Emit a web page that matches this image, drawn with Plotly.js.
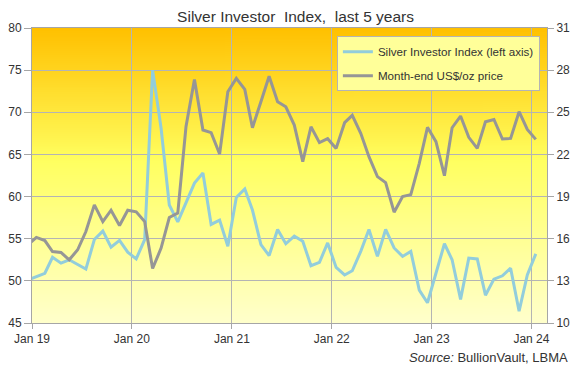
<!DOCTYPE html>
<html>
<head>
<meta charset="utf-8">
<script src="https://cdn.plot.ly/plotly-3.0.1.min.js"></script>
<style>html,body{margin:0;padding:0;background:#fff;}#chart{width:575px;height:369px;}</style>
</head>
<body>
<div id="chart"></div>
<script>
// Monthly points, Dec 2018 (partly off the left edge) through Jan 2024
const firstMonth = [2018, 12];
const pointCount = 62;

const indexValues = [50.1, 50.5, 50.9, 52.8, 52.1, 52.5, 51.9, 51.4, 54.9, 55.9, 54.0, 54.8, 53.4, 52.6, 54.9, 75.0,
  68.1, 59.0, 57.0, 59.2, 61.6, 62.8, 56.7, 57.2, 54.1, 59.9, 60.9, 58.4, 54.3, 53.0, 56.1, 54.4,
  55.3, 54.7, 51.8, 52.2, 54.5, 51.6, 50.7, 51.2, 53.5, 56.1, 52.9, 56.1, 53.9, 52.9, 53.5, 48.9,
  47.4, 50.9, 54.4, 52.5, 47.8, 52.7, 52.6, 48.3, 50.2, 50.6, 51.5, 46.4, 50.7, 53.2];

const priceValues = [15.57, 16.09, 15.87, 15.09, 15.02, 14.5, 15.21, 16.51, 18.41, 17.22, 18.03, 16.94, 18.03, 17.91, 17.22, 13.88,
  15.33, 17.51, 17.82, 23.97, 27.34, 23.74, 23.55, 22.03, 26.46, 27.41, 26.63, 23.9, 25.75, 27.57, 25.75, 25.39,
  24.09, 21.49, 23.97, 22.84, 23.12, 22.43, 24.26, 24.78, 23.5, 21.84, 20.42, 19.99, 17.89, 19.0, 19.14, 21.37,
  23.93, 22.91, 20.49, 23.9, 24.73, 23.22, 22.43, 24.33, 24.49, 23.1, 23.14, 25.04, 23.78, 23.07];

const tickDates = ['2019-01-01', '2020-01-01', '2021-01-01', '2022-01-01', '2023-01-01', '2024-01-01'];
const tickLabels = ['Jan 19', 'Jan 20', 'Jan 21', 'Jan 22', 'Jan 23', 'Jan 24'];

const seriesNames = ['Silver Investor Index (left axis)', 'Month-end US$/oz price'];

// month positions (plotted mid-month)
const months = [];
for (let i = 0; i < pointCount; i++) {
  let y = firstMonth[0], m = firstMonth[1] + i;
  y += Math.floor((m - 1) / 12);
  m = ((m - 1) % 12) + 1;
  months.push(y + '-' + String(m).padStart(2, '0') + '-17');
}

// gradient background image for the plot area
function gradientURL() {
  const c = document.createElement('canvas');
  c.width = 4; c.height = 300;
  const ctx = c.getContext('2d');
  const g = ctx.createLinearGradient(0, 0, 0, 300);
  g.addColorStop(0, '#FFC000');
  g.addColorStop(0.45, '#FFFF60');
  g.addColorStop(1, '#FFFFCC');
  ctx.fillStyle = g;
  ctx.fillRect(0, 0, 4, 300);
  return c.toDataURL('image/png');
}

const gridC = '#B4B4B4';
const lineC = '#A6A6A6';

const traces = [
  {x: months, y: indexValues, type: 'scatter', mode: 'lines', name: seriesNames[0],
   line: {color: '#92CDDC', width: 3}, yaxis: 'y', legendgroup: 'a'},
  {x: months, y: priceValues, type: 'scatter', mode: 'lines', name: seriesNames[1],
   line: {color: '#969696', width: 3}, yaxis: 'y2', legendgroup: 'b'}
];

const layout = {
  width: 575, height: 369,
  margin: {l: 32, r: 28, t: 28, b: 46, pad: 0},
  paper_bgcolor: '#FFFFFF',
  plot_bgcolor: 'rgba(0,0,0,0)',
  font: {family: 'Liberation Sans, Arial, sans-serif', size: 12, color: '#333333'},
  title: {text: 'Silver Investor\u00A0 Index,\u00A0 last 5 years', xref: 'container', yref: 'container',
          x: 0.514, xanchor: 'center', y: 0.955, yanchor: 'middle',
          font: {size: 15.5, color: '#333333'}},
  xaxis: {type: 'date', range: ['2019-01-01', '2024-02-27'], tickvals: tickDates, ticktext: tickLabels,
          showgrid: true, gridcolor: gridC, gridwidth: 1, showline: true, linecolor: lineC, linewidth: 1,
          mirror: true, ticks: 'outside', ticklen: 5, tickcolor: lineC, zeroline: false, fixedrange: true},
  yaxis: {range: [45, 80], tick0: 45, dtick: 5, showgrid: true, gridcolor: gridC, gridwidth: 1,
          showline: true, linecolor: lineC, linewidth: 1, ticks: 'outside', ticklen: 7, tickcolor: lineC,
          zeroline: false, fixedrange: true},
  yaxis2: {range: [10, 31], tick0: 10, dtick: 3, overlaying: 'y', side: 'right', showgrid: false,
           showline: true, linecolor: lineC, linewidth: 1, ticks: 'outside', ticklen: 6, tickcolor: lineC,
           zeroline: false, fixedrange: true},
  legend: {x: 0.592, y: 0.972, xanchor: 'left', yanchor: 'top', bgcolor: '#FFFF99', bordercolor: gridC,
           borderwidth: 1, font: {size: 11.6, color: '#333333'}, traceorder: 'grouped', tracegroupgap: 5},
  showlegend: true,
  images: [{source: gradientURL(), xref: 'paper', yref: 'paper', x: 0, y: 1, sizex: 1, sizey: 1,
            sizing: 'stretch', layer: 'below', xanchor: 'left', yanchor: 'top'}],
  annotations: [{text: '<i>Source:</i> BullionVault, LBMA', xref: 'paper', yref: 'paper',
                 x: 1.0445, y: -0.117, xanchor: 'right', yanchor: 'middle', showarrow: false,
                 font: {size: 13, color: '#333333'}}]
};

Plotly.newPlot('chart', traces, layout, {displayModeBar: false, staticPlot: true});
</script>
</body>
</html>
